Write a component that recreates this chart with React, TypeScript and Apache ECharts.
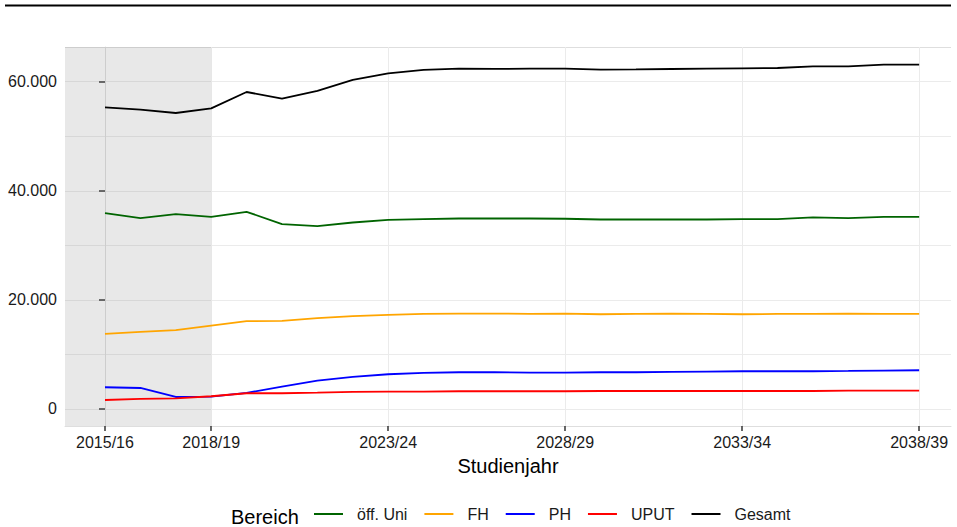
import React, { useEffect, useRef } from "react";
import * as echarts from "echarts";

const years = [
  "2015/16", "2016/17", "2017/18", "2018/19", "2019/20", "2020/21", "2021/22", "2022/23",
  "2023/24", "2024/25", "2025/26", "2026/27", "2027/28", "2028/29", "2029/30", "2030/31",
  "2031/32", "2032/33", "2033/34", "2034/35", "2035/36", "2036/37", "2037/38", "2038/39",
];

const oeffUni = [35910, 34990, 35730, 35230, 36150, 33890, 33520, 34190, 34680, 34810, 34920, 34920,
  34920, 34870, 34740, 34740, 34740, 34740, 34800, 34800, 35110, 34990, 35230, 35230];
const fh = [13760, 14130, 14440, 15290, 16090, 16150, 16640, 17010, 17250, 17430, 17490, 17490,
  17430, 17490, 17370, 17430, 17490, 17430, 17370, 17430, 17430, 17490, 17430, 17430];
const ph = [3980, 3850, 2200, 2260, 2940, 4090, 5190, 5870, 6370, 6610, 6730, 6730,
  6660, 6660, 6730, 6730, 6790, 6850, 6920, 6920, 6920, 6970, 7030, 7100];
const uput = [1650, 1840, 1960, 2330, 2880, 2880, 2990, 3120, 3180, 3180, 3250, 3250,
  3250, 3250, 3300, 3300, 3300, 3300, 3300, 3300, 3300, 3360, 3360, 3360];
const gesamt = [55290, 54870, 54260, 55100, 58110, 56890, 58300, 60320, 61530, 62150, 62390, 62340,
  62390, 62390, 62200, 62260, 62330, 62390, 62450, 62510, 62820, 62820, 63120, 63120];

const seriesNames = ["öff. Uni", "FH", "PH", "UPUT", "Gesamt"];
const seriesColors = ["#006400", "#FFA500", "#0000FF", "#FF0000", "#000000"];
const seriesValues = [oeffUni, fh, ph, uput, gesamt];

const xTickIdx = [0, 3, 8, 13, 18, 23];
const yTicks = [0, 20000, 40000, 60000];
const yGrid = [0, 10000, 20000, 30000, 40000, 50000, 60000];
const historicEndIdx = 3;

const X_MIN = -1.13;
const X_MAX = 23.9;
const Y_MIN = -3120;
const Y_MAX = 66360;

const FONT = "'Liberation Sans', Arial, Helvetica, sans-serif";

function fmtDe(v: number): string {
  return String(v).replace(/\B(?=(\d{3})+(?!\d))/g, ".");
}

export default function App() {
  const ref = useRef<HTMLDivElement>(null);

  useEffect(() => {
    if (!ref.current) return;
    const chart = echarts.init(ref.current, null, { renderer: "svg" });

    const gridLineStyle = { color: "#ebebeb", width: 1, type: "solid" as const };

    const option: any = {
      animation: false,
      backgroundColor: "#ffffff",
      textStyle: { fontFamily: FONT },
      grid: { left: 65, right: 6, top: 47, bottom: 101, containLabel: false },
      xAxis: {
        type: "value",
        min: X_MIN,
        max: X_MAX,
        splitLine: { show: false },
        axisLine: { show: true, onZero: false, lineStyle: { color: "#dedede", width: 1 } },
        axisTick: {
          show: true,
          customValues: xTickIdx,
          length: 5,
          lineStyle: { color: "#333333", width: 1.5 },
        },
        axisLabel: {
          customValues: xTickIdx,
          formatter: (v: number) => years[Math.round(v)] ?? "",
          fontSize: 16,
          color: "#1a1a1a",
          margin: 8,
          fontFamily: FONT,
        },
        name: "Studienjahr",
        nameLocation: "middle",
        nameGap: 30,
        nameTextStyle: { fontSize: 20, color: "#000000", fontFamily: FONT },
      },
      yAxis: {
        type: "value",
        min: Y_MIN,
        max: Y_MAX,
        splitLine: { show: false },
        axisLine: { show: true, lineStyle: { color: "#dedede", width: 1 } },
        axisTick: {
          show: true,
          customValues: yTicks,
          length: 6,
          lineStyle: { color: "#333333", width: 1.5 },
        },
        axisLabel: {
          customValues: yTicks,
          formatter: (v: number) => fmtDe(v),
          fontSize: 16,
          color: "#1a1a1a",
          margin: 8,
          fontFamily: FONT,
        },
      },
      legend: {
        data: seriesNames.map((name) => ({ name, icon: "rect" })),
        left: 314,
        top: 506,
        padding: 0,
        itemWidth: 29,
        itemHeight: 2,
        itemGap: 17,
        textStyle: { fontSize: 16, color: "#1a1a1a", fontFamily: FONT, padding: [0, 0, 0, 9] },
      },
      graphic: [
        {
          type: "line",
          shape: { x1: 5, y1: 5.5, x2: 951, y2: 5.5 },
          style: { stroke: "#000000", lineWidth: 2 },
        },
        {
          type: "line",
          shape: { x1: 65, y1: 47.5, x2: 951, y2: 47.5 },
          style: { stroke: "#dedede", lineWidth: 1 },
        },
        {
          type: "text",
          left: 231,
          top: 507,
          style: { text: "Bereich", fontSize: 20, fill: "#000000", fontFamily: FONT },
        },
      ],
      series: [
        {
          name: "__grid",
          type: "line",
          data: [],
          z: 0,
          markLine: {
            silent: true,
            z: 0,
            symbol: ["none", "none"],
            label: { show: false },
            lineStyle: gridLineStyle,
            emphasis: { disabled: true },
            data: [
              ...yGrid.map((v) => ({ yAxis: v })),
              ...xTickIdx.map((v) => ({ xAxis: v })),
            ],
          },
        },
        {
          name: "__shade",
          type: "line",
          data: [],
          z: 1,
          markArea: {
            silent: true,
            z: 1,
            itemStyle: { color: "rgba(128,128,128,0.18)" },
            emphasis: { disabled: true },
            data: [[{ xAxis: X_MIN }, { xAxis: historicEndIdx }]],
          },
        },
        ...seriesNames.map((name, si) => ({
          name,
          type: "line",
          z: 3,
          symbol: "none",
          showSymbol: false,
          color: seriesColors[si],
          lineStyle: { color: seriesColors[si], width: 1.8 },
          data: seriesValues[si].map((v, i) => [i, v]),
        })),
      ],
    };

    chart.setOption(option);
    return () => chart.dispose();
  }, []);

  return (
    <div
      ref={ref}
      style={{ position: "absolute", left: 0, top: 0, width: 957, height: 527 }}
    />
  );
}
